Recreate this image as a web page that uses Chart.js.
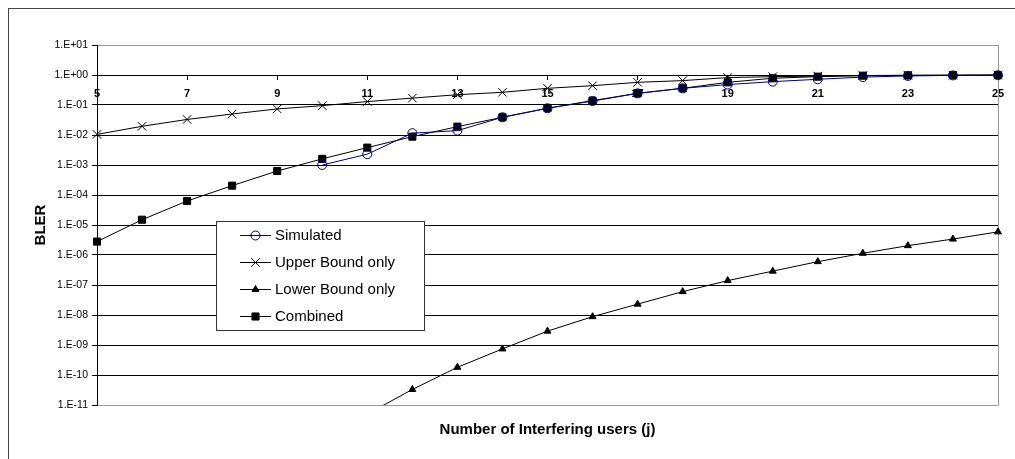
<!DOCTYPE html>
<html>
<head>
<meta charset="utf-8">
<script src="https://cdn.jsdelivr.net/npm/chart.js@4/dist/chart.umd.min.js"></script>
<style>
  html, body { margin: 0; padding: 0; background: #fff; }
  #wrap { width: 1015px; height: 459px; }
</style>
</head>
<body>
<div id="wrap"><canvas id="blerChart" width="1015" height="459"></canvas></div>
<script>
// Chart data
const users = [5, 6, 7, 8, 9, 10, 11, 12, 13, 14, 15, 16, 17, 18, 19, 20, 21, 22, 23, 24, 25];
const simulated = [null, null, null, null, null, 1.0e-3, 2.3e-3, 1.15e-2, 1.4e-2, 3.9e-2, 7.8e-2, 0.135, 0.245, 0.36, 0.48, 0.6, 0.72, 0.85, 0.93, 0.97, 0.98];
const upperBound = [0.0105, 0.0195, 0.033, 0.05, 0.074, 0.095, 0.13, 0.17, 0.22, 0.265, 0.36, 0.44, 0.57, 0.65, 0.82, 0.88, 0.92, 0.96, 0.98, 0.99, 1.0];
const lowerBound = [null, null, null, null, null, null, 5e-12, 3.3e-11, 1.8e-10, 7.4e-10, 2.9e-9, 8.8e-9, 2.3e-8, 6e-8, 1.4e-7, 2.9e-7, 6e-7, 1.14e-6, 2.05e-6, 3.4e-6, 5.9e-6];
const combined = [2.8e-6, 1.5e-5, 6.3e-5, 2.05e-4, 6.3e-4, 1.6e-3, 3.8e-3, 8.8e-3, 1.9e-2, 3.9e-2, 7.8e-2, 0.14, 0.245, 0.36, 0.57, 0.78, 0.88, 0.95, 0.97, 0.98, 0.99];
const yExponents = [-11, -10, -9, -8, -7, -6, -5, -4, -3, -2, -1, 0, 1];
const yTickLabels = ['1.E-11', '1.E-10', '1.E-09', '1.E-08', '1.E-07', '1.E-06', '1.E-05', '1.E-04', '1.E-03', '1.E-02', '1.E-01', '1.E+00', '1.E+01'];

const FONT = '"Liberation Sans", Arial, sans-serif';
const edgeClip = { left: 10, right: 10, top: 10, bottom: 0 };

// white page, outer chart border, grey plot frame
const framePlugin = {
    id: 'frame',
    beforeDraw(chart) {
        const c = chart.ctx;
        c.save();
        c.fillStyle = '#fff';
        c.fillRect(0, 0, chart.width, chart.height);
        c.strokeStyle = '#444';
        c.lineWidth = 1;
        c.strokeRect(8.5, 8.5, chart.width + 20, chart.height + 20);
        c.restore();
    },
    beforeDatasetsDraw(chart) {
        const a = chart.chartArea;
        const c = chart.ctx;
        c.save();
        c.strokeStyle = '#999';
        c.lineWidth = 1;
        c.beginPath();
        c.moveTo(Math.round(a.right) + 0.5, a.top);
        c.lineTo(Math.round(a.right) + 0.5, a.bottom + 0.5);
        c.stroke();
        c.restore();
    }
};

// Excel style legend box sitting inside the plot
const boxLegendPlugin = {
    id: 'boxLegend',
    afterDraw(chart) {
        const c = chart.ctx;
        c.save();
        c.fillStyle = '#fff';
        c.fillRect(216, 221, 208, 109);
        c.strokeStyle = '#333';
        c.lineWidth = 1;
        c.strokeRect(216.5, 221.5, 208, 109);
        c.font = '15px ' + FONT;
        c.textBaseline = 'middle';
        chart.data.datasets.forEach((ds, i) => {
            const y = 235 + i * 27;
            c.strokeStyle = ds.borderColor;
            c.lineWidth = 1;
            c.beginPath();
            c.moveTo(240, y + 0.5);
            c.lineTo(271, y + 0.5);
            c.stroke();
            c.fillStyle = ds.pointBackgroundColor;
            c.strokeStyle = ds.pointBorderColor;
            Chart.helpers.drawPoint(c, { pointStyle: ds.pointStyle, radius: ds.pointRadius, borderWidth: 1, rotation: 0 }, 255.5, y + 0.5);
            c.fillStyle = '#000';
            c.fillText(ds.label, 275, y + 1);
        });
        c.restore();
    }
};

function initBlerChart() {
    const ctx = document.getElementById('blerChart');
    new Chart(ctx, {
        type: 'line',
        data: {
            labels: users,
            datasets: [
                { label: 'Simulated', data: simulated, borderColor: '#000080', backgroundColor: '#000080', borderWidth: 1, pointStyle: 'circle', pointRadius: 4.5, pointBackgroundColor: 'rgba(255,255,255,0)', pointBorderColor: '#000080', pointBorderWidth: 1, clip: edgeClip },
                { label: 'Upper Bound only', data: upperBound, borderColor: '#000', backgroundColor: '#000', borderWidth: 1, pointStyle: 'crossRot', pointRadius: 6, pointBackgroundColor: '#000', pointBorderColor: '#000', pointBorderWidth: 1, clip: edgeClip },
                { label: 'Lower Bound only', data: lowerBound, borderColor: '#000', backgroundColor: '#000', borderWidth: 1, pointStyle: 'triangle', pointRadius: 4, pointBackgroundColor: '#000', pointBorderColor: '#000', pointBorderWidth: 1, clip: edgeClip },
                { label: 'Combined', data: combined, borderColor: '#000', backgroundColor: '#000', borderWidth: 1, pointStyle: 'rect', pointRadius: 5, pointBackgroundColor: '#000', pointBorderColor: '#000', pointBorderWidth: 1, clip: edgeClip }
            ]
        },
        options: {
            responsive: false,
            animation: false,
            events: [],
            layout: { padding: { left: 0, top: 45, right: 17, bottom: 0 } },
            plugins: { legend: { display: false }, tooltip: { enabled: false } },
            scales: {
                x: {
                    type: 'linear',
                    min: 5,
                    max: 25,
                    position: { y: 1 },
                    grid: { display: true, drawOnChartArea: false, drawTicks: true, tickLength: 4, color: '#000' },
                    border: { display: true, color: '#000' },
                    ticks: { stepSize: 2, padding: 8, color: '#000', font: { family: FONT, size: 11, weight: 'bold' }, maxRotation: 0 }
                },
                xTitle: {
                    type: 'linear',
                    axis: 'x',
                    min: 5,
                    max: 25,
                    position: 'bottom',
                    grid: { display: false },
                    border: { display: false },
                    ticks: { display: false },
                    title: { display: true, text: 'Number of Interfering users (j)', color: '#000', font: { family: FONT, size: 15, weight: 'bold' }, padding: { top: 0, bottom: 20 } },
                    afterFit: s => { s.height = 54; }
                },
                y: {
                    type: 'logarithmic',
                    min: 1e-11,
                    max: 10,
                    afterBuildTicks: s => { s.ticks = yExponents.map(e => ({ value: Math.pow(10, e) })); },
                    afterFit: s => { s.width = 97; },
                    grid: {
                        color: c => (c.index === 0 || c.index === yExponents.length - 1) ? '#999' : '#000',
                        tickColor: '#000',
                        tickLength: 5,
                        lineWidth: 1
                    },
                    border: { display: true, color: '#000' },
                    ticks: {
                        padding: 4,
                        color: '#000',
                        autoSkip: false,
                        font: { family: FONT, size: 10.5 },
                        callback: (v, i) => yTickLabels[i]
                    },
                    title: { display: true, text: 'BLER', color: '#000', font: { family: FONT, size: 15, weight: 'bold' }, padding: { top: 32, bottom: 0 } }
                }
            }
        },
        plugins: [framePlugin, boxLegendPlugin]
    });
}

window.addEventListener('DOMContentLoaded', initBlerChart);
</script>
</body>
</html>
